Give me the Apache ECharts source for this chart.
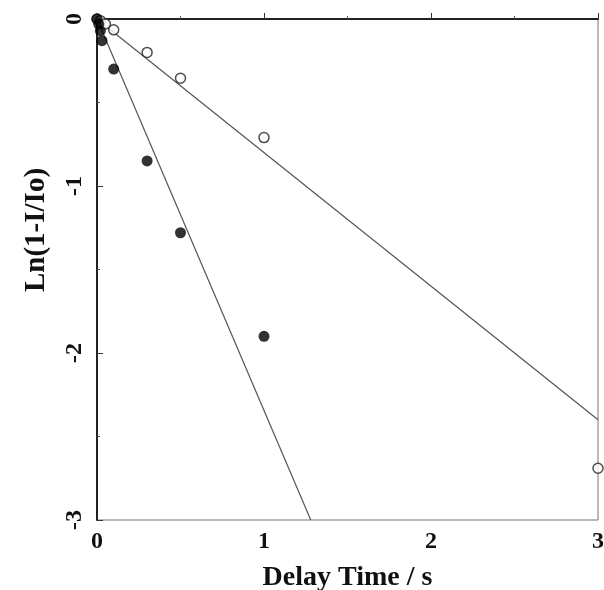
<!DOCTYPE html>
<html>
<head>
<meta charset="utf-8">
<script src="https://cdn.jsdelivr.net/npm/echarts@6/dist/echarts.min.js"></script>
<style>html,body{margin:0;padding:0;background:#fff;}#c{width:604px;height:590px;}</style>
</head>
<body>
<div id="c"></div>
<script>
// data
var filledPoints = [[0,0],[0.01,-0.03],[0.02,-0.07],[0.03,-0.13],[0.1,-0.3],[0.3,-0.85],[0.5,-1.28],[1.0,-1.9]];
var openPoints = [[0,0],[0.02,-0.01],[0.05,-0.03],[0.1,-0.065],[0.3,-0.2],[0.5,-0.355],[1.0,-0.71],[3.0,-2.69]];
var fitFilled = [[0,0],[1.28,-3]];
var fitOpen = [[0,0],[3,-2.40]];
var xTicks = [0,1,2,3];
var yTicks = [0,-1,-2,-3];

var font = 'Liberation Serif';
var chart = echarts.init(document.getElementById('c'));
chart.setOption({
  animation: false,
  grid: {left: 97, right: 6, top: 19, bottom: 70, show: true, borderColor: '#777', borderWidth: 1,
    containLabel: false, outerBoundsMode: 'none'},
  xAxis: {
    type: 'value', min: 0, max: 3, interval: 1,
    name: 'Delay Time / s', nameLocation: 'middle', nameGap: 44,
    nameTextStyle: {fontFamily: font, fontWeight: 'bold', fontSize: 28, color: '#111'},
    axisLine: {show: true, lineStyle: {color: '#222', width: 2}},
    axisTick: {show: true, inside: true, length: 6, lineStyle: {color: '#333'}},
    minorTick: {show: true, splitNumber: 2, length: 3, lineStyle: {color: '#555'}},
    splitLine: {show: false},
    axisLabel: {margin: 10, fontFamily: font, fontWeight: 'bold', fontSize: 24, color: '#111',
      formatter: function(v){ return xTicks.indexOf(v) >= 0 ? String(v) : ''; }}
  },
  yAxis: {
    type: 'value', min: -3, max: 0, interval: 1,
    axisLine: {show: true, onZero: false, lineStyle: {color: '#222', width: 2}},
    axisTick: {show: true, inside: true, length: 6, lineStyle: {color: '#333'}},
    minorTick: {show: true, splitNumber: 2, length: 3, lineStyle: {color: '#555'}},
    splitLine: {show: false},
    axisLabel: {margin: 10, rotate: 90, fontFamily: font, fontWeight: 'bold', fontSize: 24, color: '#111',
      formatter: function(v){ return yTicks.indexOf(v) >= 0 ? String(v) : ''; }}
  },
  graphic: [{
    type: 'text', x: 37, y: 230, rotation: Math.PI / 2,
    style: {text: 'Ln(1-I/Io)', fontFamily: font, fontWeight: 'bold', fontSize: 29, fill: '#111',
      textAlign: 'center', textVerticalAlign: 'middle'}
  }],
  series: [
    {type: 'line', data: fitOpen, symbol: 'none', lineStyle: {color: '#555', width: 1.2}, z: 1},
    {type: 'line', data: fitFilled, symbol: 'none', lineStyle: {color: '#555', width: 1.2}, z: 1},
    {type: 'scatter', data: openPoints, symbol: 'circle', symbolSize: 10,
      itemStyle: {color: '#fff', borderColor: '#222', borderWidth: 1.5}, z: 3},
    {type: 'scatter', data: filledPoints, symbol: 'circle', symbolSize: 11,
      itemStyle: {color: '#000'}, z: 4}
  ]
});
</script>
</body>
</html>
